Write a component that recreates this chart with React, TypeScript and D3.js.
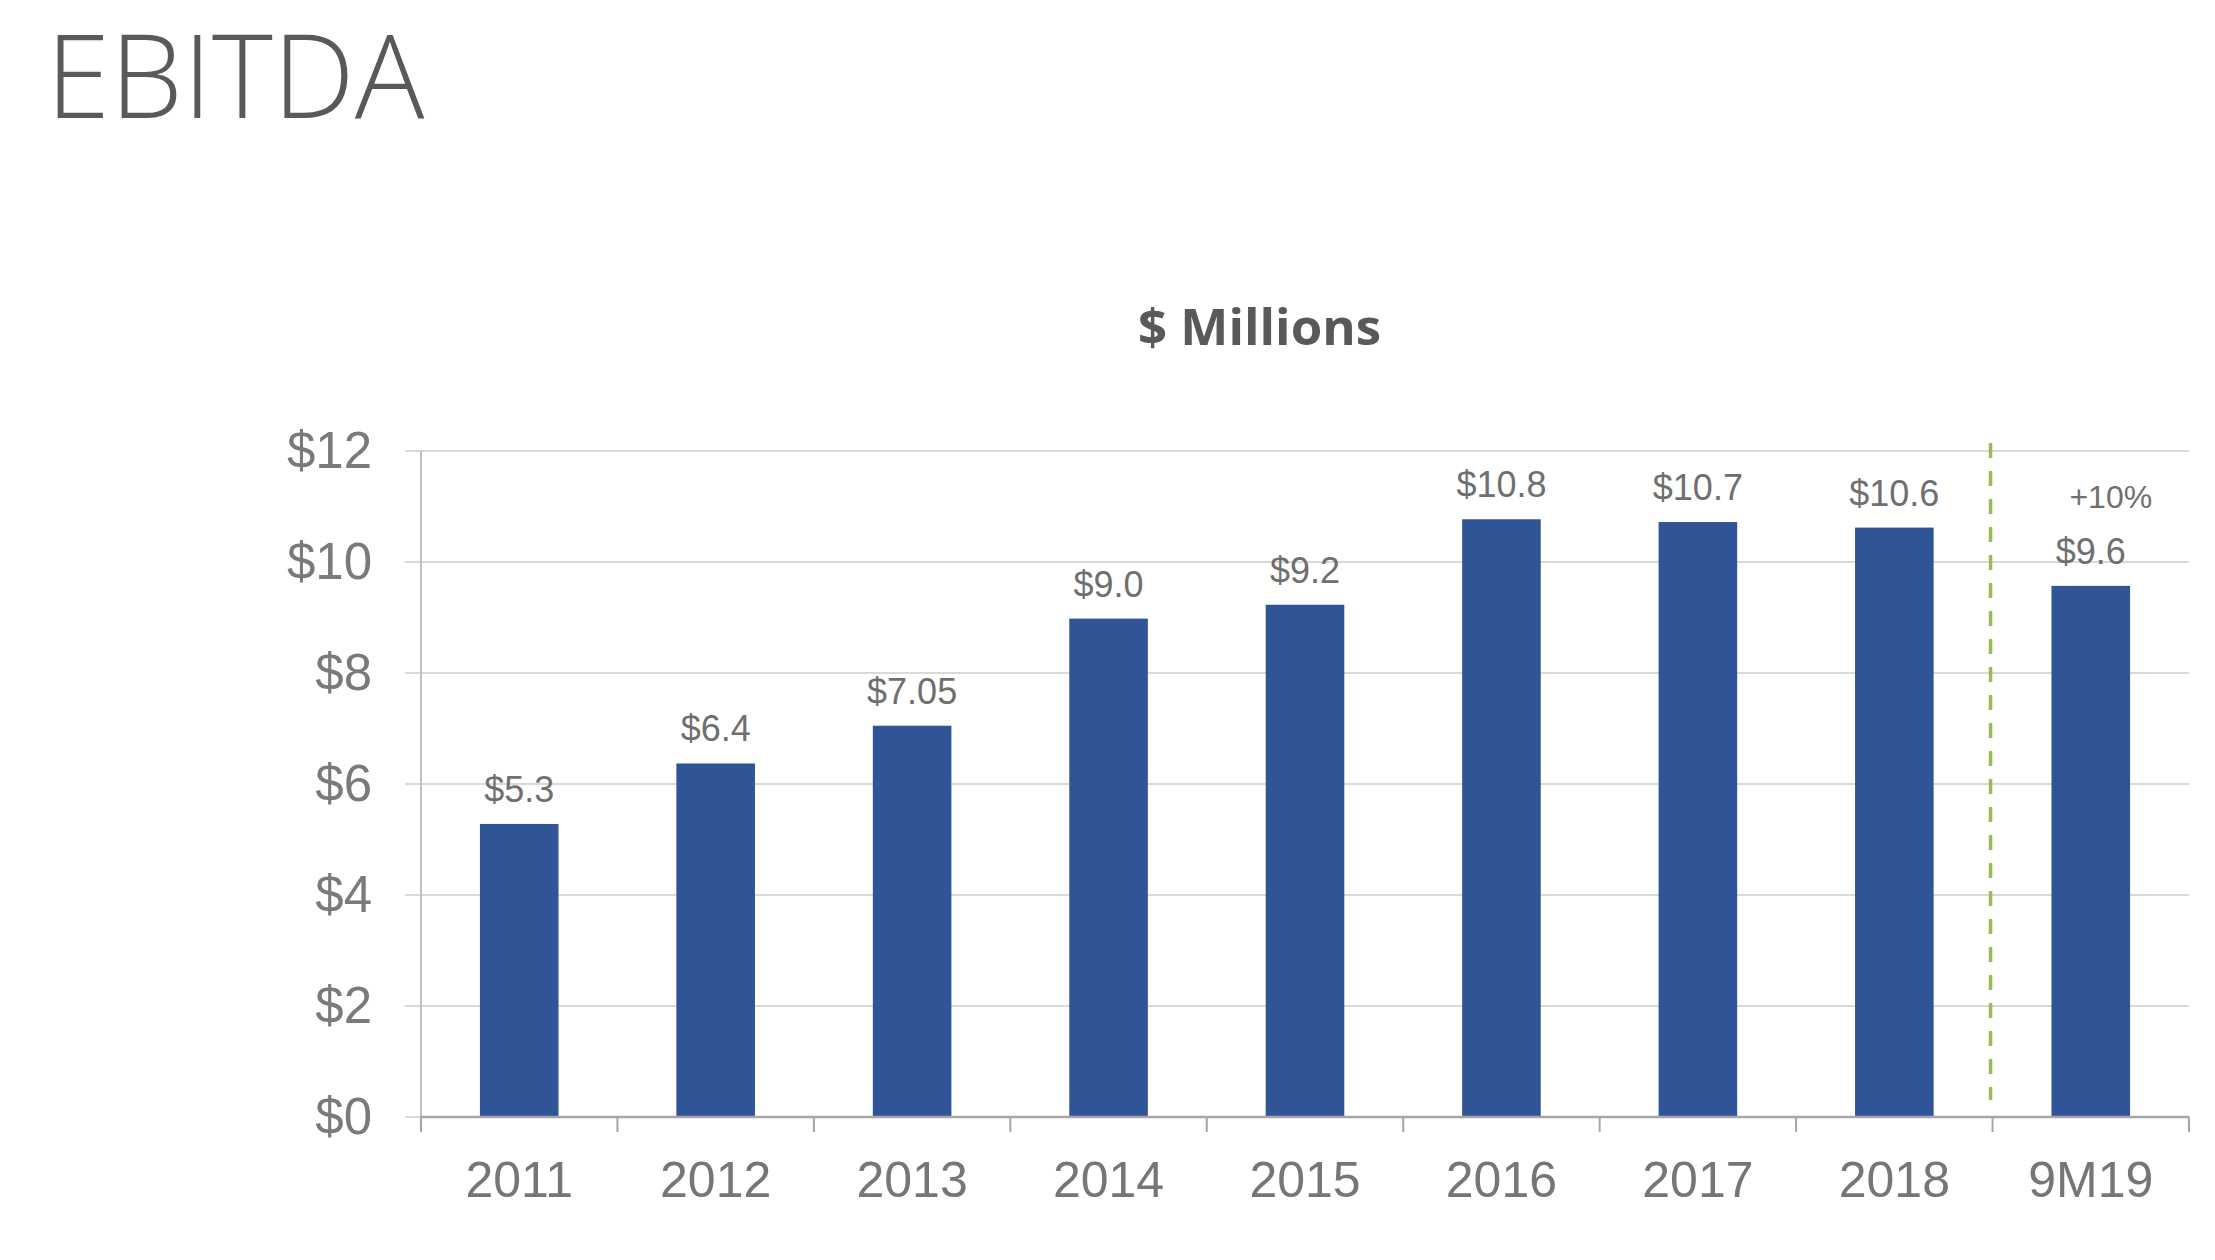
import React from "react";
import * as d3 from "d3";

const categories = ["2011", "2012", "2013", "2014", "2015", "2016", "2017", "2018", "9M19"];
const values = [5.28, 6.37, 7.05, 8.98, 9.23, 10.77, 10.72, 10.62, 9.57];
const valueLabels = ["$5.3", "$6.4", "$7.05", "$9.0", "$9.2", "$10.8", "$10.7", "$10.6", "$9.6"];
const yTicks = [0, 2, 4, 6, 8, 10, 12];
const growthNote = "+10%";
const titleText = "EBITDA";
const subtitleText = "$ Millions";

const W = 2215;
const H = 1260;
const left = 421;
const right = 2189;
const top = 451;
const bottom = 1117;

export default function App() {
  const x = d3.scaleBand<string>().domain(categories).range([left, right]).paddingInner(0.6).paddingOuter(0.3);
  const xb = d3.scaleBand<string>().domain(categories).range([left, right]);
  const y = d3.scaleLinear().domain([0, 12]).range([bottom, top]);
  const step = xb.step();
  const dividerX = xb("9M19")!;
  const axisFont = "'Liberation Sans', Arial, sans-serif";

  return (
    <svg width={W} height={H} style={{ position: "absolute", left: 0, top: 0, background: "#fff" }}>
      <text x={46} y={118} fontFamily="'Open Sans', sans-serif" fontWeight={300} fontSize={116} fill="#595959">
        {titleText}
      </text>
      <text x={1259.5} y={345} textAnchor="middle" fontFamily="'Open Sans', sans-serif" fontWeight={700} fontSize={51} fill="#595959">
        {subtitleText}
      </text>
      {yTicks.map((t) => (
        <g key={t}>
          {t > 0 && <line x1={left - 16} x2={right} y1={y(t)} y2={y(t)} stroke="#d9d9d9" strokeWidth={2} />}
          {t === 0 && <line x1={left - 16} x2={left} y1={y(t)} y2={y(t)} stroke="#d9d9d9" strokeWidth={2} />}
          <text x={372} y={y(t) + 17} textAnchor="end" fontFamily={axisFont} fontSize={51} fill="#7a7a7a">
            {"$" + t}
          </text>
        </g>
      ))}
      <line x1={left} x2={left} y1={top} y2={bottom} stroke="#bfbfbf" strokeWidth={2} />
      {categories.map((c, i) => (
        <rect key={c} x={x(c)} y={y(values[i])} width={x.bandwidth()} height={bottom - y(values[i])} fill="#2f5597" />
      ))}
      <line x1={left} x2={right} y1={bottom} y2={bottom} stroke="#a6a6a6" strokeWidth={2.5} />
      {d3.range(categories.length + 1).map((i) => (
        <line key={i} x1={left + i * step} x2={left + i * step} y1={bottom} y2={bottom + 15} stroke="#a6a6a6" strokeWidth={2} />
      ))}
      {categories.map((c) => (
        <text key={c} x={xb(c)! + step / 2} y={1197} textAnchor="middle" fontFamily={axisFont} fontSize={50} fill="#767676">
          {c}
        </text>
      ))}
      {categories.map((c, i) => (
        <text key={c} x={x(c)! + x.bandwidth() / 2} y={y(values[i]) - 22} textAnchor="middle" fontFamily={axisFont} fontSize={36} fill="#6f6f6f">
          {valueLabels[i]}
        </text>
      ))}
      <text x={x("9M19")! + x.bandwidth() / 2 + 20} y={508} textAnchor="middle" fontFamily={axisFont} fontSize={32} fill="#6f6f6f">
        {growthNote}
      </text>
      <line x1={dividerX - 2} x2={dividerX - 2} y1={443} y2={1100} stroke="#9bbb59" strokeWidth={3.5} strokeDasharray="15 13" />
    </svg>
  );
}
